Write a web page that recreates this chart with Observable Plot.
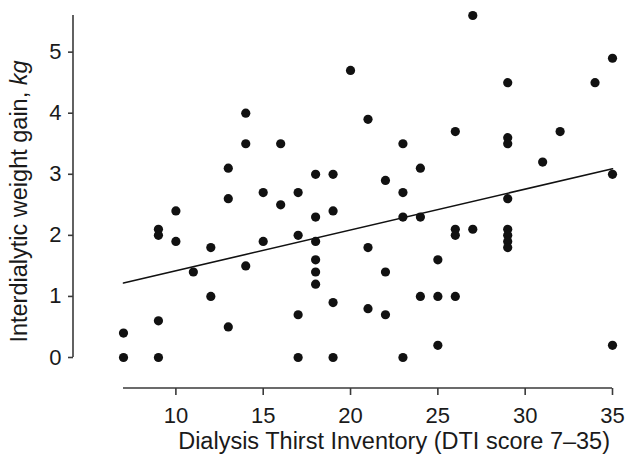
<!DOCTYPE html>
<html><head><meta charset="utf-8">
<script src="https://cdn.jsdelivr.net/npm/d3@7"></script>
<script src="https://cdn.jsdelivr.net/npm/@observablehq/plot@0.6"></script>
<style>body{margin:0;background:#fff} svg{display:block}</style>
</head><body><div id="chart"></div>
<script>
// DTI score (x) and interdialytic weight gain in kg (y), one entry per patient
const dti = [7,7, 9,9,9,9, 10,10, 11, 12,12, 13,13,13, 14,14,14, 15,15, 16,16,
  17,17,17,17, 18,18,18,18,18,18, 19,19,19,19, 20, 21,21,21, 22,22,22,
  23,23,23,23, 24,24,24, 25,25,25, 26,26,26,26, 27,27,
  29,29,29,29,29,29,29,29, 31, 32, 34, 35,35,35];
const iwg = [0.4,0, 2.1,2.0,0.6,0, 2.4,1.9, 1.4, 1.8,1.0, 3.1,2.6,0.5, 4.0,3.5,1.5, 2.7,1.9, 3.5,2.5,
  2.7,2.0,0.7,0, 3.0,2.3,1.9,1.6,1.4,1.2, 3.0,2.4,0.9,0, 4.7, 3.9,1.8,0.8, 2.9,1.4,0.7,
  3.5,2.7,2.3,0, 3.1,2.3,1.0, 1.6,1.0,0.2, 3.7,2.1,2.0,1.0, 5.6,2.1,
  4.5,3.6,3.5,2.6,2.1,2.0,1.9,1.8, 3.2, 3.7, 4.5, 4.9,3.0,0.2];
// fitted regression line end points
const fitX = [7, 35];
const fitY = [1.22, 3.09];
const xTicks = [10, 15, 20, 25, 30, 35];
const yTicks = [0, 1, 2, 3, 4, 5];
const xDomain = [7, 35];
const yDomain = [0, 5.6];
const xTitle = "Dialysis Thirst Inventory (DTI score 7–35)";
const yTitleMain = "Interdialytic weight gain, ";
const yTitleUnit = "kg";

const points = dti.map((x, i) => ({x, y: iwg[i]}));
const fit = fitX.map((x, i) => ({x, y: fitY[i]}));

const FONT = "'Liberation Sans', Arial, Helvetica, sans-serif";
const AXIS_COLOR = "#3a3a3a";
const TEXT_COLOR = "#1a1a1a";

const axisLines = (index, {x, y}, values, dims) => {
  const g = d3.create("svg:g").attr("stroke", AXIS_COLOR).attr("stroke-width", 1.6).attr("fill", "none");
  const bottom = dims.height - dims.marginBottom;
  g.append("line").attr("x1", x(xDomain[0])).attr("x2", x(xDomain[1])).attr("y1", bottom).attr("y2", bottom);
  g.append("line").attr("x1", dims.marginLeft).attr("x2", dims.marginLeft).attr("y1", y(yDomain[0])).attr("y2", y(yDomain[1]));
  return g.node();
};

const titles = (index, scales, values, dims) => {
  const g = d3.create("svg:g").attr("fill", TEXT_COLOR).attr("font-family", FONT).attr("font-size", 23.5);
  const bottom = dims.height - dims.marginBottom;
  g.append("text")
    .attr("x", dims.width - dims.marginRight - 2)
    .attr("y", bottom + 61)
    .attr("text-anchor", "end")
    .text(xTitle);
  const cy = (dims.marginTop + bottom) / 2;
  const t = g.append("text")
    .attr("transform", `translate(27,${cy}) rotate(-90)`)
    .attr("text-anchor", "middle");
  t.append("tspan").text(yTitleMain);
  t.append("tspan").attr("font-style", "italic").text(yTitleUnit);
  return g.node();
};

const plot = Plot.plot({
  width: 625,
  height: 463,
  marginLeft: 73,
  marginRight: 13,
  marginTop: 15,
  marginBottom: 75,
  style: {fontFamily: FONT, color: TEXT_COLOR, background: "#fff"},
  x: {domain: xDomain, insetLeft: 50},
  y: {domain: yDomain, insetBottom: 31},
  marks: [
    axisLines,
    Plot.axisX({ticks: xTicks, tickFormat: "d", tickSize: 7, tickPadding: 12, fontSize: 22, label: null, stroke: AXIS_COLOR, strokeWidth: 1.6, fill: TEXT_COLOR}),
    Plot.axisY({ticks: yTicks, tickFormat: "d", tickSize: 5, tickPadding: 7, fontSize: 22, label: null, stroke: AXIS_COLOR, strokeWidth: 1.6, fill: TEXT_COLOR}),
    Plot.line(fit, {x: "x", y: "y", stroke: "#111", strokeWidth: 1.6}),
    Plot.dot(points, {x: "x", y: "y", r: 4.6, fill: "#111", stroke: "none"}),
    titles
  ]
});
document.getElementById("chart").append(plot);
</script>
</body></html>
